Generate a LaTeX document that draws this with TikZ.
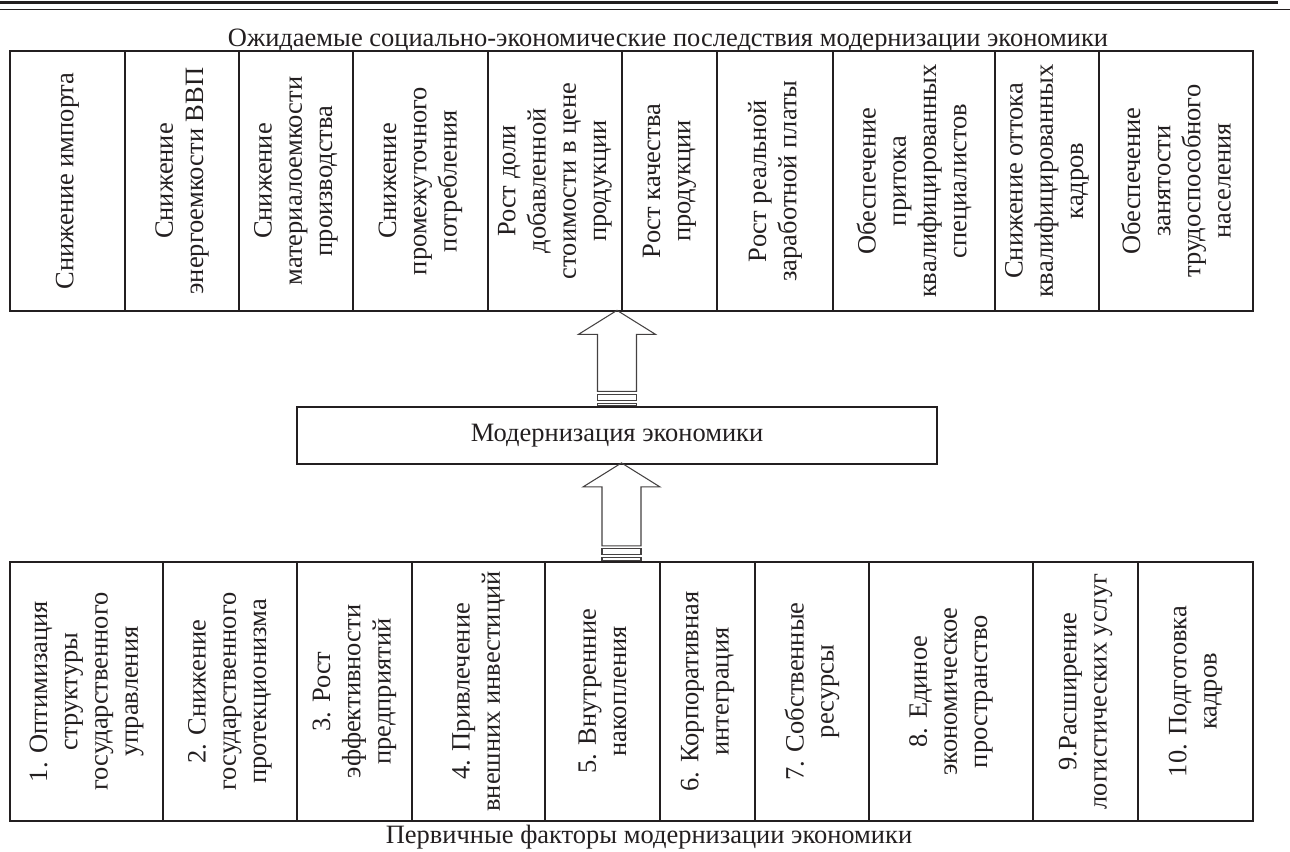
\documentclass[tikz,border=0pt]{standalone}
\usepackage{fontspec}
\setmainfont{Liberation Serif}
\usetikzlibrary{positioning, calc}
\definecolor{inkgray}{RGB}{35, 31, 32}
\newcommand{\cellfont}{\fontsize{11.3}{12.9}\selectfont}
% hollow block arrow: #1 = base point, #2 = length (px)
\newcommand{\hollowarrow}[2]{%
  \begin{scope}[shift={#1}]
    \draw[arrowline] (-19.5,-0.5) rectangle (19.5,-3);
    \draw[arrowline] (-19.5,-6) rectangle (19.5,-12);
    \draw[arrowline] (-19.5,-15) -- (-19.5,-#2+24) -- (-38.5,-#2+24) -- (0,-#2)
      -- (38.5,-#2+24) -- (19.5,-#2+24) -- (19.5,-15) -- cycle;
  \end{scope}}

\begin{document}
\begin{tikzpicture}[
  x=0.15mm, y=-0.15mm,
  cell/.style={draw=inkgray, line width=0.9pt, rotate=90, align=center, inner sep=1pt, text=inkgray, font=\cellfont},
  topcell/.style={cell, minimum width=39mm},
  botcell/.style={cell, minimum width=38.85mm},
  arrowline/.style={draw=inkgray!85, line width=0.45pt},
  caption/.style={anchor=base, text=inkgray, font=\cellfont}
]
  \useasboundingbox (0,0) rectangle (1290,852);

  % page rules
  \draw[inkgray, line width=1.1pt] (0,2.5) -- (1278,2.5);
  \draw[inkgray, line width=0.6pt] (0,9.5) -- (1290,9.5);

  % expected consequences
  \node[caption] (toptitle) at (668,47) {Ожидаемые социально-экономические последствия модернизации экономики};
  \node[topcell, minimum height=17.25mm] (e1) at (67.5,181) {Снижение импорта};
  \node[topcell, minimum height=17.1mm] (e2) at (182,181) {Снижение\\энергоемкости ВВП};
  \node[topcell, minimum height=17.1mm] (e3) at (296,181) {Снижение\\материалоемкости\\производства};
  \node[topcell, minimum height=20.25mm] (e4) at (420.5,181) {Снижение\\промежуточного\\потребления};
  \node[topcell, minimum height=20.1mm] (e5) at (555,181) {Рост доли\\добавленной\\стоимости в цене\\продукции};
  \node[topcell, minimum height=14.25mm] (e6) at (669.5,181) {Рост качества\\продукции};
  \node[topcell, minimum height=17.4mm] (e7) at (775,181) {Рост реальной\\заработной платы};
  \node[topcell, minimum height=24.3mm] (e8) at (914,181) {Обеспечение\\притока\\квалифицированных\\специалистов};
  \node[topcell, minimum height=15.6mm] (e9) at (1047,181) {Снижение оттока\\квалифицированных\\кадров};
  \node[topcell, minimum height=23.1mm] (e10) at (1176,181) {Обеспечение\\занятости\\трудоспособного\\населения};

  % modernization
  \node[draw=inkgray, line width=0.55pt, minimum width=96mm, minimum height=8.55mm, text=inkgray, font=\cellfont] (mod) at (617,435.5) {Модернизация экономики};

  % primary factors
  \node[botcell, minimum height=22.95mm] (f1) at (86.5,691.5) {1. Оптимизация\\структуры\\государственного\\управления};
  \node[botcell, minimum height=20.1mm] (f2) at (230,691.5) {2. Снижение\\государственного\\протекционизма};
  \node[botcell, minimum height=17.25mm] (f3) at (354.5,691.5) {3. Рост\\эффективности\\предприятий};
  \node[botcell, minimum height=19.95mm] (f4) at (478.5,691.5) {4. Привлечение\\внешних инвестиций};
  \node[botcell, minimum height=17.25mm] (f5) at (602.5,691.5) {5. Внутренние\\накопления};
  \node[botcell, minimum height=14.25mm] (f6) at (707.5,691.5) {6. Корпоративная\\интеграция};
  \node[botcell, minimum height=17.1mm] (f7) at (812,691.5) {7. Собственные\\ресурсы};
  \node[botcell, minimum height=24.6mm] (f8) at (951,691.5) {8. Единое\\экономическое\\пространство};
  \node[botcell, minimum height=15.75mm] (f9) at (1085.5,691.5) {9.Расширение\\логистических услуг};
  \node[botcell, minimum height=17.25mm] (f10) at (1195.5,691.5) {10. Подготовка\\кадров};
  \node[caption] (bottitle) at (649,843) {Первичные факторы модернизации экономики};

  % block arrows (cells are turned, so their top edge is .east)
  \hollowarrow{(mod.north)}{96}
  \hollowarrow{($(f5.east -| mod.south)+(4.5,0)$)}{98}
\end{tikzpicture}
\end{document}
